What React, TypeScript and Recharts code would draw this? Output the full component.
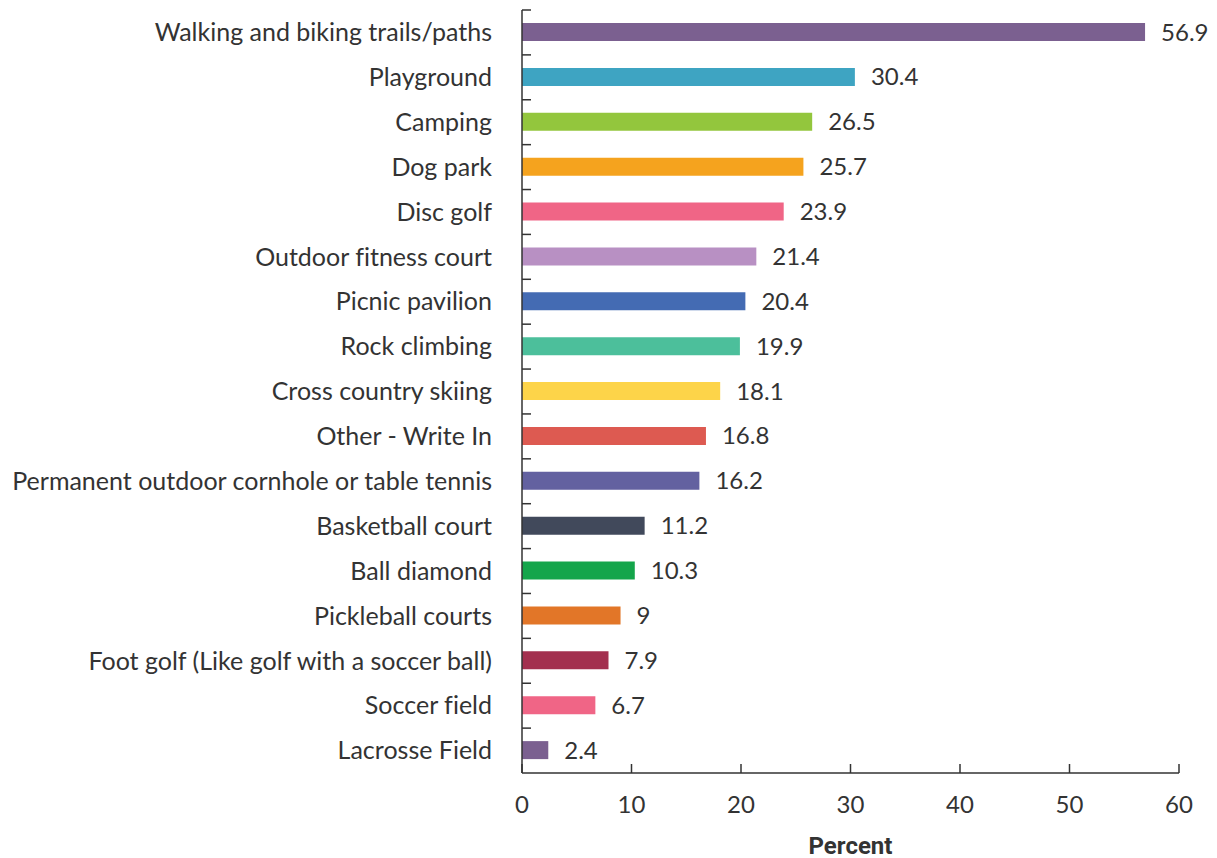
import { BarChart, Bar, XAxis, YAxis, Cell, LabelList } from "recharts";

const categories = [
  "Walking and biking trails/paths",
  "Playground",
  "Camping",
  "Dog park",
  "Disc golf",
  "Outdoor fitness court",
  "Picnic pavilion",
  "Rock climbing",
  "Cross country skiing",
  "Other - Write In",
  "Permanent outdoor cornhole or table tennis",
  "Basketball court",
  "Ball diamond",
  "Pickleball courts",
  "Foot golf (Like golf with a soccer ball)",
  "Soccer field",
  "Lacrosse Field",
];

const percents = [56.9, 30.4, 26.5, 25.7, 23.9, 21.4, 20.4, 19.9, 18.1, 16.8, 16.2, 11.2, 10.3, 9, 7.9, 6.7, 2.4];

const barColors = [
  "#7b6090", "#3ea4c2", "#93c63d", "#f5a31e", "#f06586", "#b890c3", "#446bb3", "#4cbf9b", "#fdd449",
  "#dd5a51", "#6361a0", "#41495b", "#14a54b", "#e27628", "#a3304f", "#f06586", "#7b6090",
];

const xTicks = [0, 10, 20, 30, 40, 50, 60];

const data = categories.map((name, i) => ({ name, value: percents[i] }));

const W = 1217;
const H = 858;
const TOP = 10;
const X_AXIS_H = 85;
const BAND = (H - TOP - X_AXIS_H) / categories.length;
const INK = "#333333";
const FONT = "Lato, 'Open Sans', sans-serif";

function CategoryTick(props: any) {
  const { x, y, payload } = props;
  const axisX = x + 30;
  return (
    <g>
      <line x1={axisX} x2={axisX + 9} y1={y - BAND / 2} y2={y - BAND / 2} stroke={INK} strokeWidth={1.5} />
      <text
        x={x}
        y={y}
        dy="0.35em"
        textAnchor="end"
        fill={INK}
        fontSize={25}
        fontFamily={FONT}
        style={{ fontVariantLigatures: "none" }}
      >
        {payload.value}
      </text>
    </g>
  );
}

function ValueTick(props: any) {
  const { x, y, payload } = props;
  const axisY = y - 22;
  return (
    <g>
      <line x1={x} x2={x} y1={axisY} y2={axisY - 9} stroke={INK} strokeWidth={1.5} />
      <text x={x} y={y} dy="0.75em" textAnchor="middle" fill={INK} fontSize={24} fontFamily={FONT}>
        {payload.value}
      </text>
    </g>
  );
}

export default function App() {
  return (
    <div style={{ position: "absolute", left: 0, top: 0, width: W, height: H, background: "#fff" }}>
      <BarChart
        width={W}
        height={H}
        data={data}
        layout="vertical"
        margin={{ top: TOP, right: 38, left: 0, bottom: 0 }}
      >
        <XAxis
          type="number"
          domain={[0, 60]}
          ticks={xTicks}
          tickSize={0}
          tickMargin={22}
          tick={<ValueTick />}
          stroke={INK}
          strokeWidth={1.5}
          height={X_AXIS_H}
          label={{
            value: "Percent",
            position: "insideBottom",
            offset: 4,
            fill: INK,
            fontSize: 24,
            fontWeight: 700,
            fontFamily: "Roboto, sans-serif",
          }}
        />
        <YAxis
          type="category"
          dataKey="name"
          width={522}
          tickSize={0}
          tickMargin={30}
          tick={<CategoryTick />}
          stroke={INK}
          strokeWidth={1.5}
          interval={0}
        />
        <Bar dataKey="value" barSize={18} isAnimationActive={false}>
          {data.map((d, i) => (
            <Cell key={d.name} fill={barColors[i]} />
          ))}
          <LabelList dataKey="value" position="right" offset={16} fill={INK} fontSize={24} fontFamily={FONT} />
        </Bar>
      </BarChart>
    </div>
  );
}
